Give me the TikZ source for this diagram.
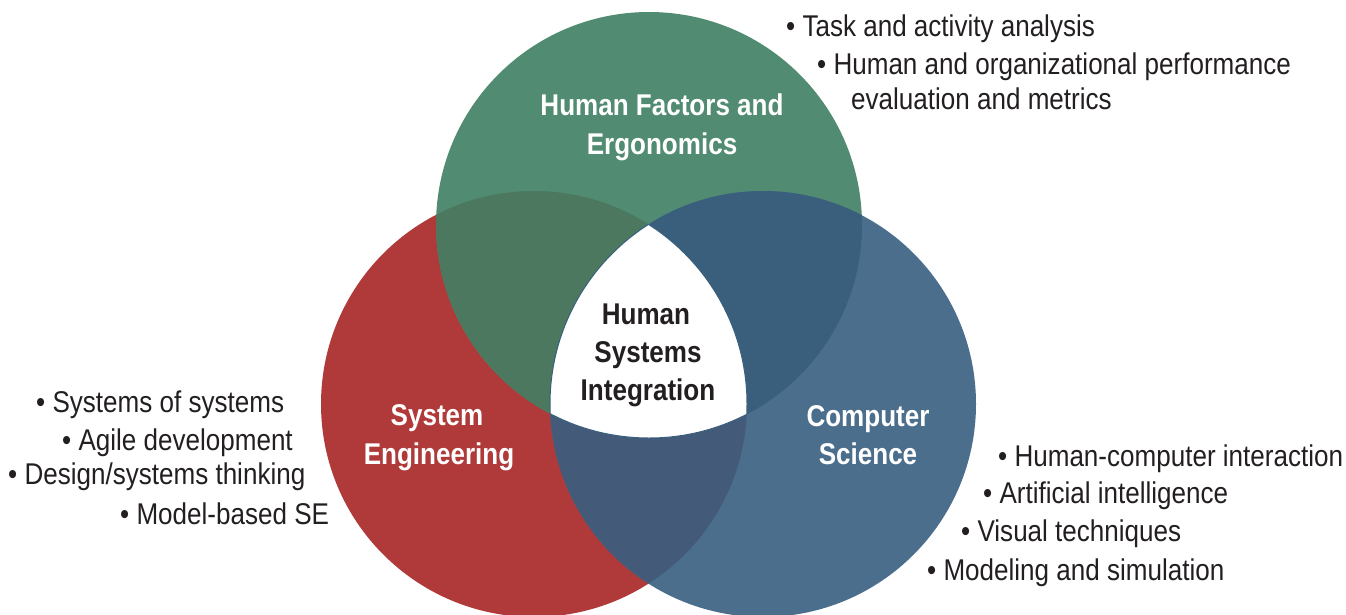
\documentclass[tikz,border=0pt]{standalone}
\usepackage{fontspec}
\setmainfont{Liberation Sans}[FakeStretch=0.868]
\begin{document}
\definecolor{hfgreen}{HTML}{518B72}
\definecolor{sered}{HTML}{AF3A39}
\definecolor{csblue}{HTML}{4B6E8D}
\definecolor{greenred}{HTML}{4B785F}
\definecolor{greenblue}{HTML}{395F7D}
\definecolor{redblue}{HTML}{445A79}
\definecolor{inkgray}{HTML}{231F20}
\begin{tikzpicture}[x=1pt,y=-1pt,
  circlabel/.style={anchor=base,inner sep=0pt,text=white,font=\fontsize{30}{39}\selectfont\bfseries},
  corelabel/.style={anchor=base,inner sep=0pt,text=inkgray,font=\fontsize{30}{39}\selectfont\bfseries},
  item/.style={anchor=base west,inner sep=0pt,text=inkgray,font=\fontsize{30}{37}\selectfont}]
\useasboundingbox (0,0) rectangle (1346,614);
% circle centres and radius
\def\rad{213}
\def\gcirc{(649,225) circle[radius=\rad]}
\def\rcirc{(534,404) circle[radius=\rad]}
\def\bcirc{(763,404) circle[radius=\rad]}
% single circles
\fill[sered] \rcirc;
\fill[hfgreen] \gcirc;
\fill[csblue] \bcirc;
% pairwise overlaps
\begin{scope}\clip \gcirc; \fill[greenred] \rcirc; \end{scope}
\begin{scope}\clip \gcirc; \fill[greenblue] \bcirc; \end{scope}
\begin{scope}\clip \rcirc; \fill[redblue] \bcirc; \end{scope}
% common core
\begin{scope}\clip \gcirc; \clip \rcirc; \fill[white] \bcirc; \end{scope}
\begin{scope}\clip \gcirc; \clip \rcirc; \draw[greenblue,line width=1pt] \bcirc; \end{scope}
\begin{scope}\clip \gcirc; \clip \bcirc; \draw[greenblue,line width=1pt] \rcirc; \end{scope}
\begin{scope}\clip \rcirc; \clip \bcirc; \draw[greenblue,line width=1pt] \gcirc; \end{scope}

% circle titles
\node[circlabel] (hf1) at (662,115) {Human Factors and};
\node[circlabel] (hf2) at (662,154) {Ergonomics};
\node[circlabel] (se1) at (437,425) {System};
\node[circlabel] (se2) at (439,464) {Engineering};
\node[circlabel] (cs1) at (868,426) {Computer};
\node[circlabel] (cs2) at (868,464) {Science};
\node[corelabel] (hsi1) at (646,324) {Human};
\node[corelabel] (hsi2) at (648,362) {Systems};
\node[corelabel] (hsi3) at (648,400) {Integration};

% human factors topics
\node[item] (t1) at (786,36) {• Task and activity analysis};
\node[item] (t2) at (817,74) {• Human and organizational performance};
\node[item] (t3) at (851,109) {evaluation and metrics};
% systems engineering topics
\node[item] (s1) at (36,412) {• Systems of systems};
\node[item] (s2) at (62,450) {• Agile development};
\node[item] (s3) at (8,484) {• Design/systems thinking};
\node[item] (s4) at (120,524) {• Model-based SE};
% computer science topics
\node[item] (c1) at (998,466) {• Human-computer interaction};
\node[item] (c2) at (983,503) {• Artificial intelligence};
\node[item] (c3) at (961,541) {• Visual techniques};
\node[item] (c4) at (927,580) {• Modeling and simulation};
\end{tikzpicture}
\end{document}
